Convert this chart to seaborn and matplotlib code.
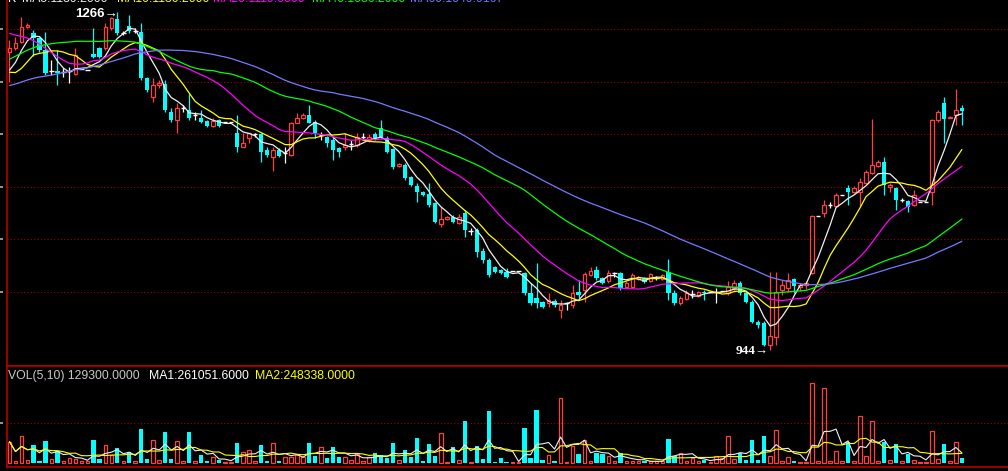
import numpy as np
import pandas as pd
import matplotlib
matplotlib.use('Agg')
import matplotlib.pyplot as plt
import matplotlib.transforms as mtransforms
import seaborn as sns

# daily K-line data (price)
opens = [1228, 1232, 1238, 1252, 1246, 1242, 1230, 1210, 1210, 1209,
         1210, 1207, 1212, 1211, 1226, 1232, 1232, 1251, 1259.5, 1246.5,
         1253, 1248, 1247.5, 1203.5, 1185.5, 1197, 1198, 1171, 1163.5, 1175,
         1173, 1168.5, 1165.5, 1162.5, 1158, 1163.5, 1161.5, 1161.5, 1151, 1138,
         1146.5, 1150, 1150, 1135, 1128.5, 1135, 1132, 1130, 1160.5, 1165.5,
         1168.5, 1161.5, 1149, 1147.5, 1144.5, 1137, 1138, 1140.5, 1139.5, 1147.5,
         1144.5, 1150, 1156, 1146.5, 1136, 1119.5, 1120.5, 1109, 1100.5, 1095,
         1093, 1084.5, 1064.5, 1069, 1071, 1065.5, 1075, 1058, 1059, 1038.5,
         1030, 1023.5, 1020.5, 1019, 1019.5, 1019.5, 1018, 999, 994, 990,
         989, 991, 982.5, 989, 987.5, 999.5, 1001.5, 1016, 1020.5, 1013,
         1010, 1018, 1018, 1004.5, 1004.5, 1012, 1013, 1010, 1013, 1012,
         1019, 999, 989, 993, 998, 996, 999.5, 999.5, 999.5, 1000.5,
         999, 1003.5, 1008.5, 999, 990, 971, 970, 949, 957, 1001.5,
         1003.5, 1012, 1004, 1006, 1018, 1072, 1075, 1082.5, 1081.5, 1092,
         1099, 1095, 1095, 1103.5, 1113, 1119.5, 1123.5, 1099.5, 1099, 1087.5,
         1086.5, 1082.5, 1085.5, 1085.5, 1095, 1163.5, 1179.5, 1165.5, 1168.5, 1175]
highs = [1240, 1243, 1262, 1256, 1249, 1243, 1247, 1221, 1230, 1213,
         1214, 1232, 1212, 1211, 1251, 1233, 1256, 1261.5, 1266, 1248,
         1263.5, 1251, 1256, 1204.5, 1203.5, 1201.5, 1201.5, 1175, 1179.5, 1178,
         1189, 1171, 1173, 1163.5, 1165.5, 1164.5, 1161.5, 1161.5, 1168.5, 1151,
         1151, 1151, 1151, 1138, 1138, 1137, 1138, 1161.5, 1170, 1170,
         1178, 1163.5, 1152, 1148.5, 1147.5, 1138, 1151, 1144.5, 1151, 1151,
         1150, 1152, 1163.5, 1148.5, 1137, 1122.5, 1122.5, 1110, 1103.5, 1096,
         1103.5, 1085.5, 1080.5, 1072, 1073, 1074, 1078, 1060.5, 1060.5, 1041.5,
         1032, 1024, 1021.5, 1022.5, 1019.5, 1019.5, 1019, 1008.5, 1027.5, 991,
         999, 993, 992, 990, 1006.5, 1011, 1019, 1023.5, 1024.5, 1014,
         1020.5, 1019, 1019, 1010, 1018, 1015, 1014, 1018, 1015, 1017,
         1031, 1001.5, 996, 1001.5, 1001.5, 1000.5, 1001.5, 999.5, 1003.5, 1000.5,
         1010, 1011, 1010, 999.5, 992, 973, 972, 1019, 1019, 1011,
         1018, 1013, 1008, 1010, 1073, 1072, 1087.5, 1085, 1094, 1092,
         1101.5, 1100.5, 1108.5, 1116, 1164.5, 1125.5, 1128.5, 1103.5, 1099.5, 1089,
         1087.5, 1097, 1085.5, 1085.5, 1164.5, 1173, 1185.5, 1167, 1193, 1178]
lows = [1200, 1230, 1237, 1251, 1224, 1228, 1206, 1206, 1197, 1204,
        1199, 1206, 1212, 1211, 1223, 1222.5, 1230, 1249, 1244.5, 1244.5,
        1246.5, 1246, 1201.5, 1190, 1180.5, 1194, 1171, 1161.5, 1151, 1171,
        1163.5, 1163.5, 1160.5, 1157, 1157, 1157, 1161.5, 1161.5, 1133, 1138,
        1141.5, 1147.5, 1123.5, 1128.5, 1115, 1128.5, 1122.5, 1129, 1160.5, 1164.5,
        1160.5, 1146.5, 1144.5, 1138, 1125.5, 1128.5, 1135, 1135, 1138, 1144.5,
        1143, 1144, 1146.5, 1132, 1117, 1119, 1106.5, 1100.5, 1085.5, 1091,
        1080.5, 1065.5, 1061.5, 1068.5, 1065.5, 1064.5, 1052, 1054, 1033, 1027.5,
        1014, 1018, 1017, 1013, 1019.5, 1019.5, 997, 987.5, 984.5, 984.5,
        985.5, 985.5, 975, 982.5, 984.5, 994, 990, 1015, 1011, 1007.5,
        1008.5, 1014, 1001.5, 1003.5, 1003.5, 1011, 1008.5, 1009, 1011, 1011,
        992, 987.5, 987.5, 992, 994, 995, 992, 999.5, 989, 1000.5,
        997, 1001.5, 997, 989, 970, 965.5, 948.5, 944, 949, 997,
        999.5, 999, 1001, 1003, 1017, 1072, 1071, 1080, 1080.5, 1092,
        1082.5, 1094, 1081.5, 1102.5, 1112, 1119, 1092, 1095, 1078, 1085,
        1076, 1081.5, 1085.5, 1085.5, 1082.5, 1161.5, 1141.5, 1165, 1159, 1159]
closes = [1232, 1237, 1252, 1254, 1242, 1230, 1208, 1210, 1208, 1209,
          1210, 1225, 1212, 1211, 1223.5, 1223.5, 1252, 1260.5, 1246.5, 1246.5,
          1248.5, 1248, 1203.5, 1192, 1197, 1199, 1173, 1163.5, 1175, 1175,
          1165.5, 1168.5, 1161.5, 1158, 1162.5, 1158, 1161.5, 1161.5, 1138, 1141.5,
          1151, 1150, 1133, 1130, 1135, 1129, 1132, 1160.5, 1165.5, 1168.5,
          1160.5, 1151, 1149, 1141.5, 1135, 1133, 1139.5, 1140.5, 1147.5, 1147.5,
          1147.5, 1146, 1147.5, 1133, 1119, 1121.5, 1108.5, 1101.5, 1095, 1092,
          1082.5, 1066.5, 1069, 1071, 1066.5, 1071, 1059, 1058, 1038, 1030,
          1016, 1019, 1018, 1014, 1019.5, 1019.5, 999, 989, 989, 985.5,
          992, 987.5, 987.5, 989, 999, 997, 1017, 1019.5, 1013, 1008.5,
          1018, 1018, 1003.5, 1008.5, 1016, 1014, 1009, 1017, 1013, 1016,
          999, 989, 994, 999, 998, 999.5, 999, 999.5, 999.5, 1000.5,
          1004.5, 1008.5, 999, 990, 971, 968.5, 949, 958, 1000, 1006.5,
          1011, 1005.5, 1006, 1008, 1072, 1072, 1082.5, 1082.5, 1092, 1092,
          1095, 1099, 1104.5, 1114, 1120.5, 1123.5, 1101.5, 1101.5, 1087.5, 1087.5,
          1080.5, 1092, 1085.5, 1085.5, 1163.5, 1171, 1164.5, 1166.5, 1173, 1172]
# closes before the first visible day (only feed the moving averages)
prior_closes = [1150, 1140, 1135, 1145, 1155, 1160, 1150, 1140, 1130, 1138,
                1148, 1156, 1150, 1142, 1145, 1152, 1158, 1150, 1140, 1136,
                1128, 1132, 1140, 1150, 1158, 1165, 1172, 1180, 1188, 1195,
                1200, 1208, 1215, 1222, 1230, 1238, 1245, 1252, 1258, 1264,
                1270, 1278, 1285, 1290, 1295, 1292, 1288, 1284, 1280, 1268,
                1240, 1212, 1190, 1178, 1215, 1200, 1195, 1208, 1220]
# volume in units of 10,000 shares
volumes = [54, 5, 67.5, 9, 45, 5, 56.5, 11, 31.5, 5,
           14, 10, 5, 5, 58, 10, 45, 21, 37.5, 6,
           29, 5, 86, 10, 58, 8, 78, 11, 56, 6,
           78, 5, 21, 5, 15, 8, 2.5, 2.5, 50, 28,
           33, 5, 45, 5, 50, 5, 17, 17, 21, 17,
           52, 18, 42, 12.5, 40, 17, 17, 7.5, 22.5, 5,
           17, 25, 21, 14, 50, 7.5, 33, 15, 62.5, 5,
           47.5, 17.5, 75, 2.5, 40, 8, 105, 2.5, 42.5, 10,
           130, 2.5, 12.5, 2.5, 2.5, 2.5, 87.5, 12.5, 132.5, 8,
           20, 5, 162.5, 4, 42.5, 22.5, 57.5, 5, 25, 22.5,
           17.5, 5, 25, 5, 5, 5, 5, 5, 5, 5,
           60, 17.5, 25, 5, 12.5, 5, 7.5, 4, 17.5, 12.5,
           67.5, 10, 25, 7.5, 57.5, 7.5, 67.5, 17.5, 82.5, 5,
           15, 6, 2.5, 2.5, 200, 5, 187.5, 5, 30, 5,
           52.5, 5, 117.5, 17.5, 105, 5, 52.5, 7.5, 47.5, 5,
           24, 9.5, 2.2, 2.1122, 80, 12, 48, 4.8, 52.7958, 12.93]

ma_windows = [5, 10, 20, 40, 60]
ma_colors = ['#f0f0f0', '#ffff00', '#ff00ff', '#00ff00', '#7878ff']
grid_levels = [1000, 1050, 1100, 1150, 1200, 1250]
header_texts = ['MA5:1139.2000', 'MA10:1130.2000', 'MA20:1119.0000', 'MA40:1086.2000', 'MA60:1049.9167']

RED = '#ff4040'
CYAN = '#00ffff'
FRAME = '#b40000'
GRID = '#a00000'

df = pd.DataFrame({'open': opens, 'high': highs, 'low': lows, 'close': closes,
                   'vol': np.array(volumes) * 10000})
df['day'] = np.arange(len(df))
all_close = pd.Series(prior_closes + closes)
for w in ma_windows:
    df[f'MA{w}'] = all_close.rolling(w).mean().iloc[len(prior_closes):].values
df['VMA5'] = df['vol'].rolling(5, min_periods=1).mean()
df['VMA10'] = df['vol'].rolling(10, min_periods=1).mean()

sns.set_theme(style='dark', rc={'axes.facecolor': 'black', 'figure.facecolor': 'black',
                                'savefig.facecolor': 'black'})
plt.rcParams['font.family'] = ['Liberation Sans', 'DejaVu Sans']

W, H = 1008, 471
fig = plt.figure(figsize=(W / 100, H / 100), dpi=100)
ax = fig.add_axes([7 / W, 105 / H, 1 - 7 / W, 366 / H])
axv = fig.add_axes([7 / W, 4 / H, 1 - 7 / W, 101 / H])

up = df[df.close > df.open]
down = df[df.close < df.open]
flat = df[df.close == df.open]

# wicks
ax.vlines(up.day, up.close, up.high, color=RED, lw=0.9, zorder=2)
ax.vlines(up.day, up.low, up.open, color=RED, lw=0.9, zorder=2)
ax.vlines(down.day, down.low, down.high, color=CYAN, lw=0.9, zorder=2)
ax.vlines(flat.day, flat.low, flat.high, color='white', lw=0.9, zorder=2)
ax.hlines(flat.close, flat.day - 0.38, flat.day + 0.38, color='white', lw=1.0, zorder=2)
# bodies
ax.bar(up.day, up.close - up.open, bottom=up.open, width=0.6, facecolor='none',
       edgecolor=RED, linewidth=0.9, zorder=3)
ax.bar(down.day, down.open - down.close, bottom=down.close, width=0.72, color=CYAN,
       linewidth=0, zorder=3)

for w, c in zip(ma_windows, ma_colors):
    sns.lineplot(data=df, x='day', y=f'MA{w}', color=c, lw=0.9, ax=ax, zorder=4)

ax.set_xlim(-0.417, 166.7)
ax.set_ylim(1277.8 - 366 / 1.05, 1277.8)
ax.set_yticks(grid_levels)
ax.grid(axis='y', color=GRID, linestyle=(0, (1, 2)), lw=0.8)
ax.grid(axis='x', visible=False)
ax.set_xticks([])
ax.tick_params(left=False, labelleft=False)
ax.set_xlabel('')
ax.set_ylabel('')
for s in ['top', 'right']:
    ax.spines[s].set_visible(False)
for s in ['left', 'bottom']:
    ax.spines[s].set_color(FRAME)
    ax.spines[s].set_linewidth(1.2)

# short scale marks at the very left edge (labels are cropped off)
tr = mtransforms.blended_transform_factory(fig.transFigure, ax.transData)
ax.hlines(grid_levels, 0, 3 / W, transform=tr, color='#b0b0b0', lw=1.2, clip_on=False)
trv = mtransforms.blended_transform_factory(fig.transFigure, axv.transData)
axv.hlines([1000000], 0, 3 / W, transform=trv, color='#b0b0b0', lw=1.2, clip_on=False)

top_day = df.high.idxmax()
low_day = df.low.idxmin()
ax.text(top_day + 0.1, df.high.max() - 1.5, f'{df.high.max():.0f}\u2192', color='white',
        fontsize=9.5, fontweight='bold', ha='right', va='center')
ax.text(low_day - 0.2, df.low.min() - 0.5, f'{df.low.min():.0f}\u2192', color='white',
        fontsize=9.5, fontweight='bold', ha='right', va='center',
        family=['Liberation Serif', 'DejaVu Serif'])

# volume panel
vup = df[df.close >= df.open]
vdown = df[df.close < df.open]
axv.bar(vup.day, vup.vol, width=0.6, facecolor='none', edgecolor=RED, linewidth=0.9)
axv.bar(vdown.day, vdown.vol, width=0.72, color=CYAN, linewidth=0)
sns.lineplot(data=df, x='day', y='VMA5', color='#f0f0f0', lw=0.8, ax=axv)
sns.lineplot(data=df, x='day', y='VMA10', color='#ffff00', lw=0.8, ax=axv)
axv.set_xlim(-0.417, 166.7)
axv.set_ylim(-92500, 2432500)
axv.set_yticks([1000000])
axv.grid(axis='y', color=GRID, linestyle=(0, (1, 2)), lw=0.8)
axv.grid(axis='x', visible=False)
axv.set_xticks([])
axv.tick_params(left=False, labelleft=False)
axv.set_xlabel('')
axv.set_ylabel('')
axv.spines['right'].set_visible(False)
for s in ['left', 'bottom', 'top']:
    axv.spines[s].set_color(FRAME)
    axv.spines[s].set_linewidth(1.2)

last = df.iloc[-1]
vy = 1 - 376 / H
fig.text(8 / W, vy, f'VOL(5,10) {last.vol:.4f}', color='#c8c8c8', fontsize=8.8, va='center')
fig.text(149 / W, vy, f'MA1:{last.VMA5:.4f}', color='white', fontsize=8.8, va='center')
fig.text(255 / W, vy, f'MA2:{last.VMA10:.4f}', color='#ffff00', fontsize=8.8, va='center')

# header line at the very top, mostly cut off in the original screenshot
hx = [22, 117, 213, 312, 410]
fig.text(8 / W, 1 - 2.5 / H, 'K', color='white', fontsize=8.8, va='baseline')
for x, t, c in zip(hx, header_texts, ma_colors):
    fig.text(x / W, 1 - 2.5 / H, t, color=c, fontsize=8.8, va='baseline')

fig.savefig('out.png', dpi=100, facecolor='black')
